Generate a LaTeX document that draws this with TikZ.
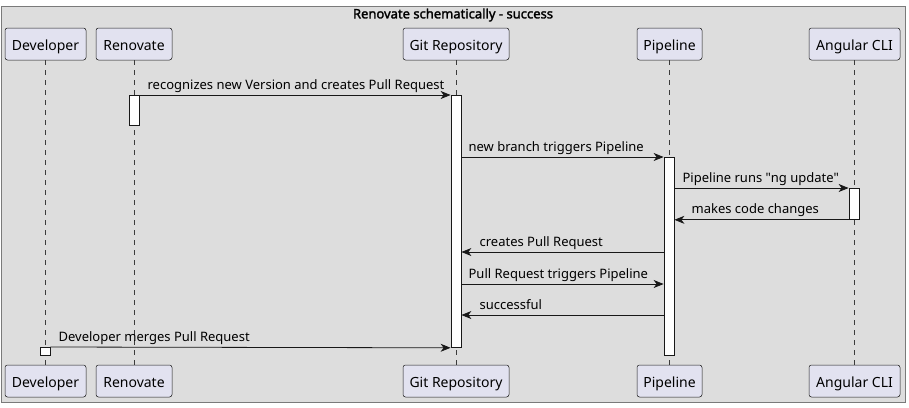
\documentclass[tikz,border=0pt]{standalone}
\usepackage{fontspec}
\setmainfont{Noto Sans}
\newfontfamily\titlefont{Noto Sans}[FakeBold=2]
\newfontfamily\qfont{Noto Sans}
\usetikzlibrary{arrows.meta}
\definecolor{bg}{HTML}{DDDDDD}
\definecolor{pfill}{HTML}{E2E2F0}
\definecolor{pline}{HTML}{181818}
\definecolor{frame}{HTML}{7A7A7A}
\begin{document}
\begin{tikzpicture}[x=1pt,y=-1pt,
  part/.style={draw=pline, fill=pfill, rounded corners=2.5pt, minimum height=32pt, inner xsep=2pt, inner ysep=0pt, text height=12pt, text depth=0pt, font=\fontsize{14}{16}\selectfont, line width=0.5pt},
  act/.style={draw=pline, fill=white, minimum width=10pt, inner sep=0pt, line width=0.8pt},
  life/.style={draw=pline!85, dash pattern=on 5pt off 5pt, line width=0.5pt},
  msg/.style={draw=pline, line width=0.8pt, -{Stealth[length=10pt,width=8pt,inset=3pt]}},
  lbl/.style={font=\fontsize{13}{15}\selectfont, anchor=base west, inner sep=0pt, text=black}]
\useasboundingbox (0,0) rectangle (909,407);
% frame
\draw[fill=bg, draw=frame, line width=0.8pt] (1,6) rectangle (905,402);
\node[font=\titlefont\fontsize{13}{15}\selectfont] (title) at (453,15) {Renovate schematically - success};
% participants top
\node[part, minimum width=81pt] (devT) at (45.5,44) {Developer};
\node[part, minimum width=76pt] (renT) at (134,44) {Renovate};
\node[part, minimum width=106pt] (gitT) at (456,44) {Git Repository};
\node[part, minimum width=65pt] (pipT) at (669.5,44) {Pipeline};
\node[part, minimum width=91pt] (cliT) at (854.5,44) {Angular CLI};
% participants bottom
\node[part, minimum width=81pt] (devB) at (45.5,381) {Developer};
\node[part, minimum width=76pt] (renB) at (134,381) {Renovate};
\node[part, minimum width=106pt] (gitB) at (456,381) {Git Repository};
\node[part, minimum width=65pt] (pipB) at (669.5,381) {Pipeline};
\node[part, minimum width=91pt] (cliB) at (854.5,381) {Angular CLI};
% lifelines
\foreach \p in {dev,ren,git,pip,cli}{
  \draw[life] (\p T.south) -- (\p B.north);
}
% activations
\node[act, anchor=north, minimum height=30pt] (renA) at (134,95) {};
\node[act, anchor=north, minimum height=252pt] (gitA) at (456,95) {};
\node[act, anchor=north, minimum height=198pt] (pipA) at (669,157) {};
\node[act, anchor=north, minimum height=31pt] (cliA) at (854,188) {};
\node[act, anchor=north, minimum height=8pt] (devA) at (45,347) {};
% y levels
\coordinate (y5) at (0,252);
\coordinate (y6) at (0,284);
\coordinate (y7) at (0,315);
% messages
\draw[msg] (renA.north east) -- (gitA.north west);
\node[lbl] (l1) at ([xshift=8pt,yshift=5.5pt]renA.north east) {recognizes new Version and creates Pull Request};
\draw[msg] (gitA.east |- pipA.north) -- (pipA.north west);
\node[lbl] (l2) at ([xshift=7pt,yshift=6pt]gitA.east |- pipA.north) {new branch triggers Pipeline};
\draw[msg] (pipA.east |- cliA.north) -- (cliA.north west);
\node[lbl] (l3) at ([xshift=8pt,yshift=6pt]pipA.east |- cliA.north) {Pipeline runs {\qfont"}ng update{\qfont"}};
\draw[msg] (cliA.south west) -- (pipA.east |- cliA.south);
\node[lbl] (l4) at ([xshift=17pt,yshift=6pt]pipA.east |- cliA.south) {makes code changes};
\draw[msg] (pipA.west |- y5) -- (gitA.east |- y5);
\node[lbl] (l5) at ([xshift=18pt,yshift=6pt]gitA.east |- y5) {creates Pull Request};
\draw[msg] (gitA.east |- y6) -- (pipA.west |- y6);
\node[lbl] (l6) at ([xshift=7pt,yshift=6pt]gitA.east |- y6) {Pull Request triggers Pipeline};
\draw[msg] (pipA.west |- y7) -- (gitA.east |- y7);
\node[lbl] (l7) at ([xshift=18pt,yshift=6pt]gitA.east |- y7) {successful};
\draw[msg] (devA.north east) -- (gitA.south west);
\node[lbl] (l8) at ([xshift=8pt,yshift=5.5pt]devA.north east) {Developer merges Pull Request};
\end{tikzpicture}
\end{document}
